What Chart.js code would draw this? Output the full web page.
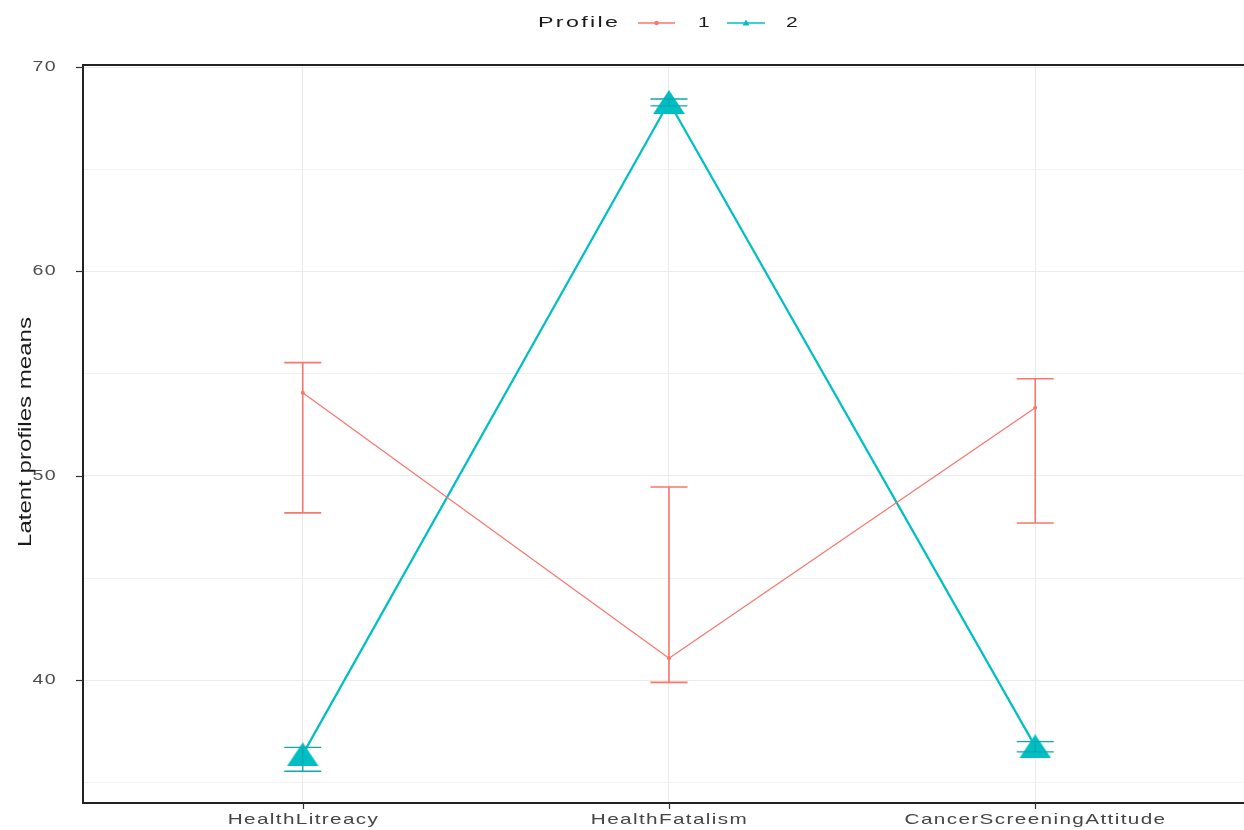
<!DOCTYPE html>
<html>
<head>
<meta charset="utf-8">
<script src="https://cdn.jsdelivr.net/npm/chart.js@4.4.1/dist/chart.umd.min.js"></script>
<style>
  html, body { margin: 0; padding: 0; background: #ffffff; overflow: hidden; }
  canvas { display: block; }
</style>
</head>
<body>
<canvas id="chart" width="1244" height="830"></canvas>
<script>
// Indicators on the x axis
const categories = ['HealthLitreacy', 'HealthFatalism', 'CancerScreeningAttitude'];

// Profile 1: means with lower / upper error limits
const profile1Mean  = [54.07, 41.08, 53.33];
const profile1Lower = [48.19, 39.90, 47.70];
const profile1Upper = [55.54, 49.46, 54.75];

// Profile 2: means with lower / upper error limits
const profile2Mean  = [36.38, 68.29, 36.77];
const profile2Lower = [35.55, 68.10, 36.50];
const profile2Upper = [36.72, 68.44, 37.00];

// Axis ticks and labels
const yGridValues  = [35, 40, 45, 50, 55, 60, 65, 70];
const yLabelValues = [40, 50, 60, 70];
const yTitle = 'Latent profiles means';
const legendTitle = 'Profile';
const profileNames = ['1', '2'];

const RED = '#F8766D';
const TEAL = '#00BFC4';
const TEXT_FONT = '15px "Liberation Sans", Arial, sans-serif';

// Filled triangle used as the point marker for profile 2
function triangleMarker(w, h, color) {
  const c = document.createElement('canvas');
  c.width = w; c.height = h;
  const g = c.getContext('2d');
  g.fillStyle = color;
  g.beginPath();
  g.moveTo(w / 2, 0);
  g.lineTo(w, h);
  g.lineTo(0, h);
  g.closePath();
  g.fill();
  return c;
}
const bigTriangle = triangleMarker(32, 24, TEAL);

const series = [
  { mean: profile1Mean, lower: profile1Lower, upper: profile1Upper, color: RED, barWidth: 1.6 },
  { mean: profile2Mean, lower: profile2Lower, upper: profile2Upper, color: '#10A8AC', barWidth: 1.4 }
];

// Stretched text helper (wide R-style glyphs)
function wideText(ctx, text, x, y, align, sx, color, font, spacing) {
  ctx.save();
  ctx.font = font;
  ctx.fillStyle = color;
  ctx.textBaseline = 'middle';
  if ('letterSpacing' in ctx) ctx.letterSpacing = (spacing || 0) + 'px';
  const w = ctx.measureText(text).width * sx;
  let left = x;
  if (align === 'center') left = x - w / 2;
  else if (align === 'right') left = x - w;
  ctx.translate(left, y);
  ctx.scale(sx, 1);
  ctx.textAlign = 'left';
  ctx.fillText(text, 0, 0);
  ctx.restore();
}

// Error bars with caps, drawn from the data arrays through the scales
const errorBars = {
  id: 'errorBars',
  afterDatasetsDraw(chart) {
    const { ctx, scales: { x, y } } = chart;
    const capHalf = 18.5;
    series.forEach(s => {
      ctx.save();
      ctx.strokeStyle = s.color;
      ctx.lineWidth = s.barWidth;
      categories.forEach((c, i) => {
        const px = x.getPixelForValue(i);
        const yl = y.getPixelForValue(s.lower[i]);
        const yu = y.getPixelForValue(s.upper[i]);
        ctx.beginPath();
        ctx.moveTo(px, yl); ctx.lineTo(px, yu);
        ctx.moveTo(px - capHalf, yl); ctx.lineTo(px + capHalf, yl);
        ctx.moveTo(px - capHalf, yu); ctx.lineTo(px + capHalf, yu);
        ctx.stroke();
      });
      ctx.restore();
    });
  }
};

// Panel border, tick marks, axis labels, axis title and legend
const decorations = {
  id: 'decorations',
  afterDraw(chart) {
    const { ctx, chartArea: a, scales: { x, y } } = chart;
    ctx.save();
    ctx.strokeStyle = '#222222';
    ctx.lineWidth = 2;
    ctx.beginPath();
    ctx.moveTo(a.right + 5, a.top); ctx.lineTo(a.left, a.top);
    ctx.lineTo(a.left, a.bottom); ctx.lineTo(a.right + 5, a.bottom);
    ctx.stroke();

    ctx.lineWidth = 1.2;
    ctx.strokeStyle = '#333333';
    yLabelValues.forEach(v => {
      const py = Math.round(y.getPixelForValue(v)) + 0.5;
      ctx.beginPath(); ctx.moveTo(a.left - 7, py); ctx.lineTo(a.left, py); ctx.stroke();
      wideText(ctx, String(v), a.left - 26, py, 'right', 1.4, '#4D4D4D', '14px "Liberation Sans", Arial, sans-serif', 1);
    });
    categories.forEach((c, i) => {
      const px = Math.round(x.getPixelForValue(i)) + 0.5;
      ctx.beginPath(); ctx.moveTo(px, a.bottom); ctx.lineTo(px, a.bottom + 6); ctx.stroke();
      wideText(ctx, c, px, a.bottom + 17, 'center', 1.38, '#454545', TEXT_FONT, 1);
    });
    ctx.restore();

    // Rotated y-axis title in a condensed face
    ctx.save();
    ctx.font = '18px "Liberation Sans Narrow", "Arial Narrow", "Liberation Sans", Arial, sans-serif';
    const tw = ctx.measureText(yTitle).width;
    ctx.translate(26, (a.top + a.bottom) / 2 - 2);
    ctx.rotate(-Math.PI / 2);
    ctx.scale(230 / tw, 1);
    ctx.fillStyle = '#1A1A1A';
    ctx.textAlign = 'center';
    ctx.textBaseline = 'middle';
    ctx.fillText(yTitle, 0, 0);
    ctx.restore();

    // Legend: title followed by one key per profile
    const ly = 23;
    wideText(ctx, legendTitle, 538, ly, 'left', 1.55, '#1A1A1A', TEXT_FONT, 1.5);
    const keys = [
      { x0: 638, x1: 675, tx: 698, color: RED, marker: 'dot' },
      { x0: 727, x1: 765, tx: 786, color: TEAL, marker: 'tri' }
    ];
    keys.forEach((k, i) => {
      ctx.save();
      ctx.strokeStyle = k.color;
      ctx.fillStyle = k.color;
      ctx.lineWidth = 1.3;
      ctx.beginPath(); ctx.moveTo(k.x0, ly); ctx.lineTo(k.x1, ly); ctx.stroke();
      const cx = (k.x0 + k.x1) / 2;
      ctx.beginPath();
      if (k.marker === 'dot') {
        ctx.arc(cx, ly, 2.2, 0, Math.PI * 2);
      } else {
        ctx.moveTo(cx, ly - 3.5); ctx.lineTo(cx + 3.5, ly + 2.5); ctx.lineTo(cx - 3.5, ly + 2.5); ctx.closePath();
      }
      ctx.fill();
      ctx.restore();
      wideText(ctx, profileNames[i], k.tx, ly, 'left', 1.4, '#1A1A1A', TEXT_FONT, 1);
    });
  }
};

const toPoints = arr => arr.map((v, i) => ({ x: i, y: v }));

new Chart(document.getElementById('chart'), {
  type: 'line',
  data: {
    datasets: [
      {
        label: profileNames[0],
        data: toPoints(profile1Mean),
        borderColor: RED,
        backgroundColor: RED,
        borderWidth: 1.2,
        tension: 0,
        pointStyle: 'circle',
        pointRadius: 2,
        pointBorderWidth: 0,
        pointBackgroundColor: RED
      },
      {
        label: profileNames[1],
        data: toPoints(profile2Mean),
        borderColor: TEAL,
        backgroundColor: TEAL,
        borderWidth: 2.2,
        tension: 0,
        pointStyle: bigTriangle,
        pointRadius: 12
      }
    ]
  },
  options: {
    responsive: false,
    animation: false,
    devicePixelRatio: 1,
    layout: { autoPadding: false, padding: { left: 83, top: 65, right: 0, bottom: 27 } },
    plugins: { legend: { display: false }, tooltip: { enabled: false } },
    scales: {
      x: {
        type: 'linear',
        min: -0.6,
        max: 2.57,
        afterBuildTicks: s => { s.ticks = categories.map((c, i) => ({ value: i })); },
        afterFit: s => { s.height = 0; },
        ticks: { display: false },
        border: { display: false },
        grid: { color: '#EBEBEB', lineWidth: 1, drawTicks: false }
      },
      y: {
        min: 34.0,
        max: 70.1,
        afterBuildTicks: s => { s.ticks = yGridValues.map(v => ({ value: v })); },
        afterFit: s => { s.width = 0; },
        ticks: { display: false },
        border: { display: false },
        grid: {
          drawTicks: false,
          lineWidth: 1,
          color: c => (c.tick && c.tick.value % 10 === 0) ? '#EBEBEB' : '#F2F2F2'
        }
      }
    }
  },
  plugins: [errorBars, decorations]
});
</script>
</body>
</html>
